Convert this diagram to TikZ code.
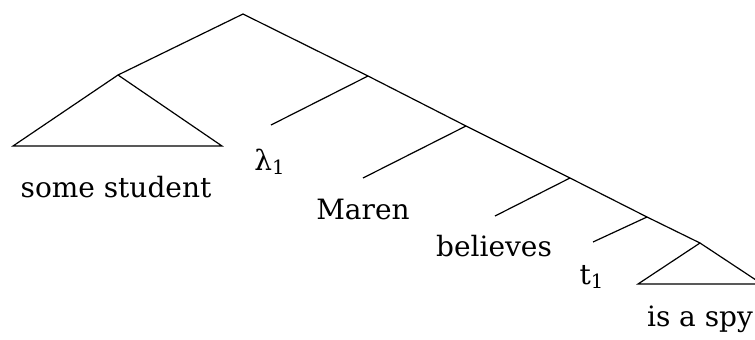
\documentclass[tikz,border=0pt]{standalone}
\usepackage{fontspec}
\setmainfont{DejaVu Serif}
\begin{document}
\begin{tikzpicture}[x=0.5pt,y=-0.5pt,
  edge/.style={line width=0.6pt},
  leaf/.style={anchor=base,inner sep=0pt,font=\fontsize{14}{17}\selectfont}]
\useasboundingbox (0,0) rectangle (755,339);
% internal nodes
\coordinate (root) at (243,14);
\coordinate (dp) at (118,75);
\coordinate (n1) at (368,76);
\coordinate (n2) at (466,126);
\coordinate (n3) at (570,178);
\coordinate (n4) at (647,217);
\coordinate (vp) at (700,243);
% branch ends
\coordinate (dpl) at (13,146);
\coordinate (dpr) at (222,146);
\coordinate (lam) at (271,125);
\coordinate (mar) at (363,178);
\coordinate (bel) at (495,216);
\coordinate (tr) at (593,242);
\coordinate (vpl) at (638,284);
\coordinate (vpr) at (762,284);
% labels
\node[leaf] (ss) at (116,197) {some student};
\node[leaf] (lamlab) at (270,170) {λ\textsubscript{1}};
\node[leaf] (marlab) at (363,219) {Maren};
\node[leaf] (bellab) at (494,256) {believes};
\node[leaf] (tlab) at (592,284) {t\textsubscript{1}};
\node[leaf] (spy) at (700,326) {is a spy};
% edges
\draw[edge] (dp) -- (root) -- (n1) -- (n2) -- (n3) -- (n4) -- (vp);
\draw[edge] (dp) -- (dpl) -- (dpr) -- cycle;
\draw[edge] (n1) -- (lam);
\draw[edge] (n2) -- (mar);
\draw[edge] (n3) -- (bel);
\draw[edge] (n4) -- (tr);
\draw[edge] (vp) -- (vpl) -- (vpr) -- cycle;
\end{tikzpicture}
\end{document}
